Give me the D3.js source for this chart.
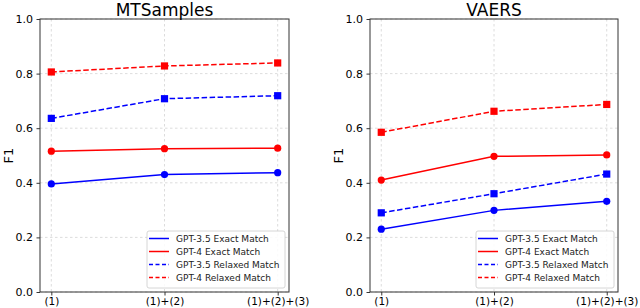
<!DOCTYPE html>
<html><head><meta charset="utf-8">
<script src="https://cdn.jsdelivr.net/npm/d3@7"></script>
<style>body{margin:0;background:#fff}svg{display:block;font-family:"DejaVu Sans",sans-serif}</style>
</head><body><svg id="c" width="640" height="308"></svg>
<script>
const categories = ["(1)", "(1)+(2)", "(1)+(2)+(3)"];
const yTicks = [0.0, 0.2, 0.4, 0.6, 0.8, 1.0];
const seriesNames = ["GPT-3.5 Exact Match", "GPT-4 Exact Match", "GPT-3.5 Relaxed Match", "GPT-4 Relaxed Match"];
const panelTitles = ["MTSamples", "VAERS"];
const mtGpt35Exact = [0.396, 0.430, 0.437];
const mtGpt4Exact = [0.516, 0.525, 0.527];
const mtGpt35Relaxed = [0.636, 0.708, 0.719];
const mtGpt4Relaxed = [0.806, 0.828, 0.839];
const vaGpt35Exact = [0.230, 0.299, 0.332];
const vaGpt4Exact = [0.410, 0.497, 0.502];
const vaGpt35Relaxed = [0.290, 0.360, 0.432];
const vaGpt4Relaxed = [0.585, 0.662, 0.687];

const styles = [
  {color:"#0000ff", dash:null, marker:"circle"},
  {color:"#ff0000", dash:null, marker:"circle"},
  {color:"#0000ff", dash:"5.5,2.5", marker:"square"},
  {color:"#ff0000", dash:"5.5,2.5", marker:"square"}
];
const panels = [
  {title: panelTitles[0], x0: 40, x1: 289, data: [mtGpt35Exact, mtGpt4Exact, mtGpt35Relaxed, mtGpt4Relaxed]},
  {title: panelTitles[1], x0: 370, x1: 618, data: [vaGpt35Exact, vaGpt4Exact, vaGpt35Relaxed, vaGpt4Relaxed]}
];
const svg = d3.select("#c");
const yTop = 19, yBot = 292;

panels.forEach(p => {
  const x = d3.scaleLinear().domain([-0.1, 2.1]).range([p.x0, p.x1]);
  const y = d3.scaleLinear().domain([0, 1]).range([yBot, yTop]);
  const g = svg.append("g");
  g.selectAll(".gx").data(categories).enter().append("line")
    .attr("x1", (d,i)=>x(i)).attr("x2", (d,i)=>x(i)).attr("y1", yTop).attr("y2", yBot)
    .attr("stroke", "#d3d3d3").attr("stroke-width", 0.8).attr("stroke-dasharray", "2.5,2.5");
  g.selectAll(".gy").data(yTicks).enter().append("line")
    .attr("x1", p.x0).attr("x2", p.x1).attr("y1", d=>y(d)).attr("y2", d=>y(d))
    .attr("stroke", "#d3d3d3").attr("stroke-width", 0.8).attr("stroke-dasharray", "2.5,2.5");
  const ya = d3.axisLeft(y).tickValues(yTicks).tickFormat(d3.format(".1f")).tickSize(3.5).tickPadding(3.5);
  const yg = g.append("g").attr("transform", `translate(${p.x0},0)`).call(ya);
  yg.select(".domain").remove();
  yg.selectAll("text").attr("font-size", 11).attr("fill", "#000").attr("font-family", "DejaVu Sans");
  yg.selectAll("line").attr("stroke", "#000").attr("stroke-width", 0.8);
  const xa = d3.axisBottom(x).tickValues([0,1,2]).tickFormat(i => categories[i]).tickSize(3.5).tickPadding(2.5);
  const xg = g.append("g").attr("transform", `translate(0,${yBot})`).call(xa);
  xg.select(".domain").remove();
  xg.selectAll("text").attr("font-size", 10.5).attr("fill", "#000").attr("font-family", "DejaVu Sans");
  xg.selectAll("line").attr("stroke", "#000").attr("stroke-width", 0.8);
  p.data.forEach((vals, si) => {
    const st = styles[si];
    const line = d3.line().x((d,i)=>x(i)).y(d=>y(d));
    g.append("path").datum(vals).attr("d", line).attr("fill", "none")
      .attr("stroke", st.color).attr("stroke-width", 1.5)
      .attr("stroke-dasharray", st.dash);
    if (st.marker === "circle") {
      g.selectAll(null).data(vals).enter().append("circle")
        .attr("cx", (d,i)=>x(i)).attr("cy", d=>y(d)).attr("r", 3.6).attr("fill", st.color);
    } else {
      g.selectAll(null).data(vals).enter().append("rect")
        .attr("x", (d,i)=>x(i)-3.6).attr("y", d=>y(d)-3.6).attr("width", 7.2).attr("height", 7.2).attr("fill", st.color);
    }
  });
  g.append("rect").attr("x", p.x0).attr("y", yTop).attr("width", p.x1-p.x0).attr("height", yBot-yTop)
    .attr("fill", "none").attr("stroke", "#333").attr("stroke-width", 1);
  g.append("text").attr("x", (p.x0+p.x1)/2).attr("y", 15.8).attr("text-anchor", "middle")
    .attr("font-size", 17).text(p.title);
  g.append("text").attr("transform", `translate(${p.x0-27},${(yTop+yBot)/2}) rotate(-90)`)
    .attr("text-anchor", "middle").attr("font-size", 13).text("F1");
  const lx = p.x1 - 142, ly = 231;
  const lg = g.append("g");
  lg.append("rect").attr("x", lx).attr("y", ly).attr("width", 138).attr("height", 57)
    .attr("rx", 2).attr("fill", "#fff").attr("fill-opacity", 0.85).attr("stroke", "#ccc").attr("stroke-width", 0.8);
  seriesNames.forEach((name, si) => {
    const st = styles[si];
    const cy = ly + 7.5 + si * 13;
    lg.append("line").attr("x1", lx+2).attr("x2", lx+22).attr("y1", cy).attr("y2", cy)
      .attr("stroke", st.color).attr("stroke-width", 1.5).attr("stroke-dasharray", st.dash ? "4,2.5" : null);
    lg.append("text").attr("x", lx+29).attr("y", cy+3.3).attr("font-size", 9).attr("fill", "#222").text(name);
  });
});
</script></body></html>
